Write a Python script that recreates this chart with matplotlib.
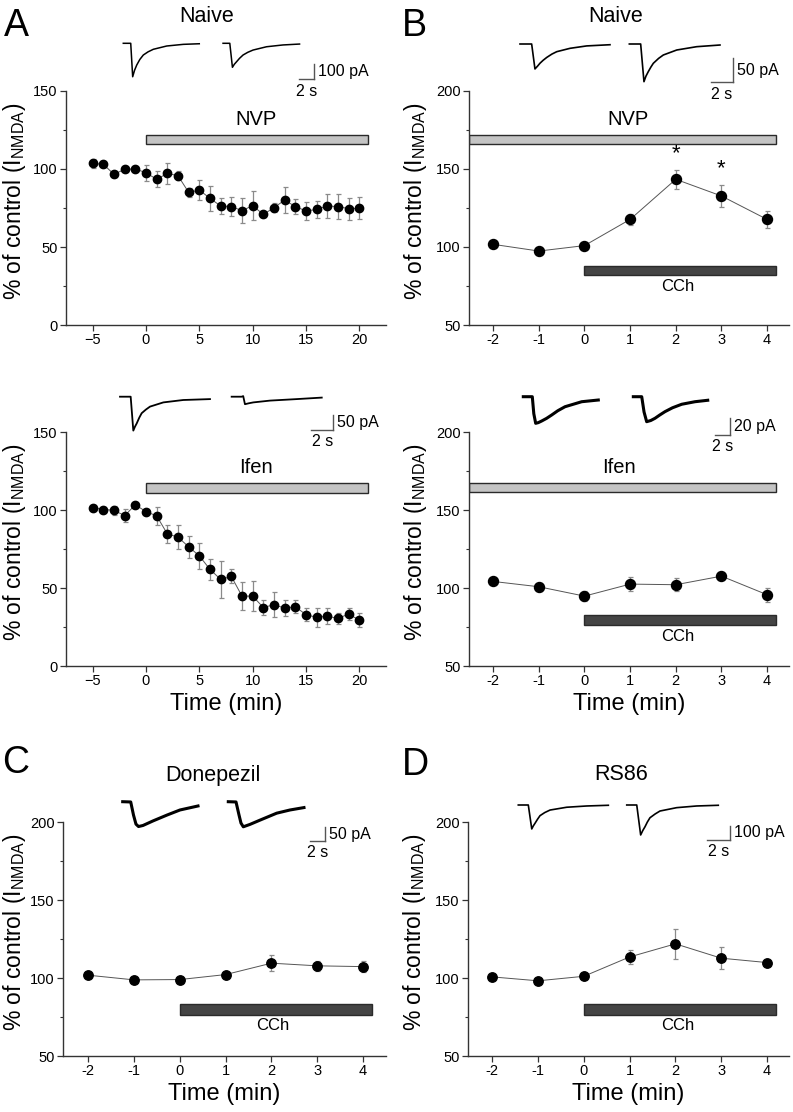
import numpy as np
import matplotlib
matplotlib.use('Agg')
import matplotlib.pyplot as plt
from matplotlib.ticker import FixedLocator

plt.rcParams['font.family'] = ['Liberation Sans', 'DejaVu Sans']
plt.rcParams['mathtext.fontset'] = 'custom'
plt.rcParams['mathtext.rm'] = 'Liberation Sans'
plt.rcParams['mathtext.it'] = 'Liberation Sans:italic'
plt.rcParams['mathtext.bf'] = 'Liberation Sans:bold'

W, H, DPI = 793, 1112, 100

# ---------------- data ----------------
time_a = [-5, -4, -3, -2, -1, 0, 1, 2, 3, 4, 5, 6, 7, 8, 9, 10, 11, 12, 13, 14, 15, 16, 17, 18, 19, 20]
a_naive_mean = [103.6, 103.0, 96.6, 99.8, 100.0, 97.6, 93.4, 97.2, 95.7, 85.0, 86.5, 81.2, 76.3, 75.9,
                73.3, 76.5, 70.9, 75.2, 80.1, 75.9, 73.1, 74.1, 76.3, 75.9, 74.6, 74.8]
a_naive_err = [3.0, 1.5, 2.0, 1.5, 1.5, 5.0, 5.0, 6.5, 3.0, 3.0, 6.5, 8.0, 5.0, 6.0,
               8.0, 9.5, 1.5, 3.0, 8.5, 5.0, 6.0, 5.5, 7.5, 8.0, 7.0, 7.0]
a_ifen_mean = [101.6, 100.3, 99.8, 96.4, 103.3, 99.0, 96.2, 84.7, 82.6, 76.4, 70.6, 61.9, 55.5, 57.4,
               44.8, 44.8, 37.5, 39.3, 37.1, 38.0, 32.9, 31.2, 32.0, 30.5, 33.3, 29.4]
a_ifen_err = [1.5, 1.5, 3.0, 4.0, 1.5, 1.5, 5.5, 6.0, 7.5, 7.0, 8.5, 7.0, 12.0, 4.5,
              9.0, 9.5, 5.0, 8.0, 5.0, 4.0, 4.0, 6.0, 5.0, 3.5, 4.0, 4.5]
a_ticks = [-5, 0, 5, 10, 15, 20]
a_ticklabels = ['\u22125', '0', '5', '10', '15', '20']

time_b = [-2, -1, 0, 1, 2, 3, 4]
b_ticklabels = ['-2', '-1', '0', '1', '2', '3', '4']
b_naive_mean = [101.7, 97.4, 100.9, 117.7, 143.4, 132.7, 117.7]
b_naive_err = [1.5, 1.5, 1.5, 3.5, 6.0, 7.0, 5.5]
b_ifen_mean = [104.2, 100.8, 94.8, 102.5, 102.1, 107.6, 95.7]
b_ifen_err = [1.5, 2.5, 3.0, 4.5, 4.0, 2.0, 4.5]
c_mean = [101.8, 98.8, 99.0, 102.2, 109.5, 107.8, 107.3]
c_err = [1.5, 1.5, 1.5, 1.5, 5.0, 3.0, 3.5]
d_mean = [100.7, 98.2, 101.1, 113.5, 121.9, 112.7, 109.9]
d_err = [1.5, 1.5, 1.5, 4.5, 9.5, 7.0, 1.5]
b_star_x = [2, 3]

# example current traces (time in s, current in pA)
tr_a1_t = [0, 0.99, 1.25, 1.5, 1.79, 2.2, 2.67, 3.3, 4.0, 5.79, 8.0, 10.13]
tr_a1_i = [0, 0, -223, -180, -145, -108, -78, -57, -40, -18, -7, -3]
tr_a2_t = [13.3, 14.2, 14.55, 14.8, 15.1, 15.5, 15.97, 16.6, 17.3, 19.1, 21.3, 23.5]
tr_a2_i = [0, 0, -160, -140, -123, -100, -78, -60, -45, -23, -11, -5]

tr_b1_t = [0, 1.06, 1.36, 1.6, 1.82, 2.1, 2.43, 2.9, 3.34, 4.55, 6.06, 8.18]
tr_b1_i = [0, 0, -52, -46, -40, -34, -28, -21, -16, -9, -4, -1.5]
tr_b2_t = [9.94, 10.97, 11.27, 11.45, 11.66, 11.9, 12.12, 12.6, 13.03, 14.25, 16.06, 18.18]
tr_b2_i = [0, 0, -78.5, -67, -57.7, -48, -40.2, -30, -22.9, -12.5, -5.6, -2.1]

tr_a3_t = [0, 0.97, 1.21, 1.36, 1.52, 1.75, 1.97, 2.35, 2.73, 3.94, 5.75, 8.18]
tr_a3_i = [0, 0, -113, -100, -89, -70, -55, -43, -33, -19, -11, -8]
tr_a4_t = [10.15, 11.06, 11.2, 11.36, 11.7, 12.12, 13.64, 16.06, 18.34]
tr_a4_i = [0, 0, 2, -25, -22, -19, -13, -8, -3]

tr_b3_t = [0, 1.2, 1.4, 1.65, 2.0, 2.45, 3.1, 3.79, 4.6, 5.56, 7.79, 10.0]
tr_b3_i = [0, 0, -20, -31.3, -30.5, -28.6, -25.5, -21.5, -16.5, -11.8, -5.9, -3.9]
tr_b4_t = [14.67, 15.79, 16.1, 16.45, 17.0, 17.56, 18.2, 18.89, 19.9, 21.12, 22.89, 24.59]
tr_b4_i = [0, 0, -18, -29.4, -28, -25.4, -21.5, -17.6, -13, -8.9, -5.9, -4.2]

tr_c1_t = [0, 1.07, 1.44, 1.77, 2.11, 2.71, 4.04, 5.91, 7.64, 10.04]
tr_c1_i = [0, -1, -50, -84, -93, -89, -72, -50, -31, -16]
tr_c2_t = [14.08, 15.11, 15.51, 15.77, 16.08, 16.97, 18.31, 20.53, 22.31, 24.17]
tr_c2_i = [0, -1, -50, -80, -94, -85, -69, -43, -31, -22]

tr_d1_t = [0, 0.87, 1.17, 1.3, 1.45, 1.67, 1.89, 2.3, 2.76, 4.21, 5.95, 7.83]
tr_d1_i = [0, 0, -171, -150, -131, -102, -76, -54, -36, -16, -7, -2]
tr_d2_t = [9.43, 10.3, 10.64, 10.82, 11.02, 11.22, 11.45, 11.9, 12.32, 13.77, 15.51, 17.39]
tr_d2_i = [0, 0, -214, -183, -155, -122, -91, -64, -43, -19, -7, -2]

fig = plt.figure(figsize=(W / DPI, H / DPI), dpi=DPI)

SPINE = '#333333'


def px_axes(left, top, right, bottom):
    return fig.add_axes([left / W, 1 - bottom / H, (right - left) / W, (bottom - top) / H])


def style(ax, xlim, ylim, xticks, xticklabels, yticks, yminor, label_x, xlabel=False):
    ax.set_xlim(*xlim)
    ax.set_ylim(*ylim)
    for s in ['top', 'right']:
        ax.spines[s].set_visible(False)
    for s in ['left', 'bottom']:
        ax.spines[s].set_color(SPINE)
        ax.spines[s].set_linewidth(1.0)
    ax.set_xticks(xticks)
    ax.set_xticklabels(xticklabels)
    ax.set_yticks(yticks)
    ax.yaxis.set_minor_locator(FixedLocator(yminor))
    ax.tick_params(which='major', direction='out', length=4, width=0.9, color=SPINE,
                   labelsize=10.5, pad=2)
    ax.tick_params(which='minor', direction='out', length=2.5, width=0.8, color=SPINE)
    ax.set_ylabel('% of control (I$_{\\mathrm{NMDA}}$)', fontsize=16.5)
    ax.yaxis.set_label_coords(label_x, 0.53)
    if xlabel:
        ax.set_xlabel('Time (min)', fontsize=17)
        ax.xaxis.set_label_coords(0.5, -0.115)


def series(ax, x, m, e, ms):
    ax.plot(x, m, color='#555555', lw=0.7, zorder=2)
    ax.errorbar(x, m, yerr=e, fmt='none', ecolor='#8a8a8a', elinewidth=0.9, capsize=1.8,
                capthick=0.9, zorder=3)
    ax.plot(x, m, 'o', color='black', ms=ms, zorder=4)


def drug_bar(ax, x0, x1, y0, y1, color):
    ax.barh((y0 + y1) / 2, x1 - x0, height=y1 - y0, left=x0, color=color,
            edgecolor='#2a2a2a', linewidth=1.0, zorder=1)


def trace_axes(x0, y0, pxs, pxpa):
    ax = px_axes(x0 - 5, y0 - 30, x0 + 280, y0 + 60)
    ax.set_xlim(-5 / pxs, 280 / pxs)
    ax.set_ylim(-60 / pxpa, 30 / pxpa)
    ax.axis('off')
    return ax


def scalebar(ax, tc, ic, amp, label, pxs, pxpa):
    ax.plot([tc, tc], [ic, ic + amp], color='#555555', lw=1.0)
    ax.plot([tc - 2, tc], [ic, ic], color='#555555', lw=1.0)
    ax.text(tc + 4 / pxs, ic + amp / 2, label, ha='left', va='center', fontsize=11.5)
    ax.text(tc - 1, ic - 12 / pxpa, '2 s', ha='center', va='center', fontsize=11.5)


# ---------------- Panel A top ----------------
ax = px_axes(66, 91, 386, 325)
style(ax, (-7.5, 22.5), (0, 150), a_ticks, a_ticklabels, [0, 50, 100, 150], [25, 75, 125], -0.12)
drug_bar(ax, 0, 20.8, 115.8, 121.8, '#c4c4c4')
ax.text(10.3, 131.5, 'NVP', ha='center', va='center', fontsize=14.5)
series(ax, time_a, a_naive_mean, a_naive_err, 6.0)

# ---------------- Panel A bottom ----------------
ax = px_axes(66, 432, 386, 666)
style(ax, (-7.5, 22.5), (0, 150), a_ticks, a_ticklabels, [0, 50, 100, 150], [25, 75, 125], -0.12,
      xlabel=True)
drug_bar(ax, 0, 20.8, 110.7, 117.3, '#c4c4c4')
ax.text(10.3, 127, 'Ifen', ha='center', va='center', fontsize=14.5)
series(ax, time_a, a_ifen_mean, a_ifen_err, 6.0)

# ---------------- Panel B top ----------------
ax = px_axes(469, 91, 789, 325)
style(ax, (-2.53, 4.48), (50, 200), time_b, b_ticklabels, [50, 100, 150, 200], [75, 125, 175], -0.125)
drug_bar(ax, -2.53, 4.2, 165.8, 171.8, '#c4c4c4')
ax.text(0.95, 182, 'NVP', ha='center', va='center', fontsize=14.5)
drug_bar(ax, 0, 4.2, 81.8, 88.0, '#444444')
ax.text(2.05, 74.6, 'CCh', ha='center', va='center', fontsize=12)
series(ax, time_b, b_naive_mean, b_naive_err, 7.2)
for xs in b_star_x:
    i = time_b.index(xs)
    ax.text(xs, b_naive_mean[i] + b_naive_err[i] + 3.5, '*', ha='center', va='bottom', fontsize=16)

# ---------------- Panel B bottom ----------------
ax = px_axes(469, 432, 789, 666)
style(ax, (-2.53, 4.48), (50, 200), time_b, b_ticklabels, [50, 100, 150, 200], [75, 125, 175], -0.125,
      xlabel=True)
drug_bar(ax, -2.53, 4.2, 161.4, 167.3, '#c4c4c4')
ax.text(0.75, 177, 'Ifen', ha='center', va='center', fontsize=14.5)
drug_bar(ax, 0, 4.2, 76.0, 82.4, '#444444')
ax.text(2.05, 69.2, 'CCh', ha='center', va='center', fontsize=12)
series(ax, time_b, b_ifen_mean, b_ifen_err, 7.2)

# ---------------- Panel C ----------------
ax = px_axes(63, 822, 386, 1056)
style(ax, (-2.55, 4.5), (50, 200), time_b, b_ticklabels, [50, 100, 150, 200], [75, 125, 175], -0.108,
      xlabel=True)
drug_bar(ax, 0, 4.2, 76.3, 83.2, '#444444')
ax.text(2.03, 69.3, 'CCh', ha='center', va='center', fontsize=12)
series(ax, time_b, c_mean, c_err, 6.8)

# ---------------- Panel D ----------------
ax = px_axes(468, 822, 789, 1056)
style(ax, (-2.53, 4.48), (50, 200), time_b, b_ticklabels, [50, 100, 150, 200], [75, 125, 175], -0.125,
      xlabel=True)
drug_bar(ax, 0, 4.2, 76.3, 83.2, '#444444')
ax.text(2.05, 69.3, 'CCh', ha='center', va='center', fontsize=12)
series(ax, time_b, d_mean, d_err, 6.8)

# ---------------- traces ----------------
tx = trace_axes(123.3, 43.3, 7.5, 0.15)
tx.plot(tr_a1_t, tr_a1_i, color='black', lw=1.1)
tx.plot(tr_a2_t, tr_a2_i, color='black', lw=1.1)
scalebar(tx, 25.4, -238, 100, '100 pA', 7.5, 0.15)

tx = trace_axes(520, 44, 11, 0.48)
tx.plot(tr_b1_t, tr_b1_i, color='black', lw=1.2)
tx.plot(tr_b2_t, tr_b2_i, color='black', lw=1.2)
scalebar(tx, 19.36, -79.8, 50, '50 pA', 11, 0.48)

tx = trace_axes(120, 396.7, 11, 0.3)
tx.plot(tr_a3_t, tr_a3_i, color='black', lw=1.3)
tx.plot(tr_a4_t, tr_a4_i, color='black', lw=1.3)
scalebar(tx, 19.39, -111, 50, '50 pA', 11, 0.3)

tx = trace_axes(523.3, 396.7, 7.5, 0.85)
tx.plot(tr_b3_t, tr_b3_i, color='black', lw=2.2)
tx.plot(tr_b4_t, tr_b4_i, color='black', lw=2.2)
scalebar(tx, 27.56, -45, 20, '20 pA', 7.5, 0.85)

tx = trace_axes(122.7, 801.7, 7.5, 0.267)
tx.plot(tr_c1_t, tr_c1_i, color='black', lw=2.2)
tx.plot(tr_c2_t, tr_c2_i, color='black', lw=2.2)
scalebar(tx, 26.97, -146, 50, '50 pA', 7.5, 0.267)

tx = trace_axes(518.3, 805, 11.5, 0.14)
tx.plot(tr_d1_t, tr_d1_i, color='black', lw=1.2)
tx.plot(tr_d2_t, tr_d2_i, color='black', lw=1.2)
scalebar(tx, 18.41, -250, 100, '100 pA', 11.5, 0.14)


# ---------------- titles and panel letters ----------------
def ftext(x, y, s, **kw):
    fig.text(x / W, 1 - y / H, s, **kw)


ftext(207, 17, 'Naive', ha='center', va='center', fontsize=15.5)
ftext(616, 17, 'Naive', ha='center', va='center', fontsize=15.5)
ftext(213, 775, 'Donepezil', ha='center', va='center', fontsize=15.5)
ftext(621, 775, 'RS86', ha='center', va='center', fontsize=15.5)
ftext(4, 36, 'A', ha='left', va='baseline', fontsize=27)
ftext(402, 36, 'B', ha='left', va='baseline', fontsize=27)
ftext(2, 773, 'C', ha='left', va='baseline', fontsize=27)
ftext(402, 775, 'D', ha='left', va='baseline', fontsize=27)

fig.savefig('out.png', dpi=DPI)
